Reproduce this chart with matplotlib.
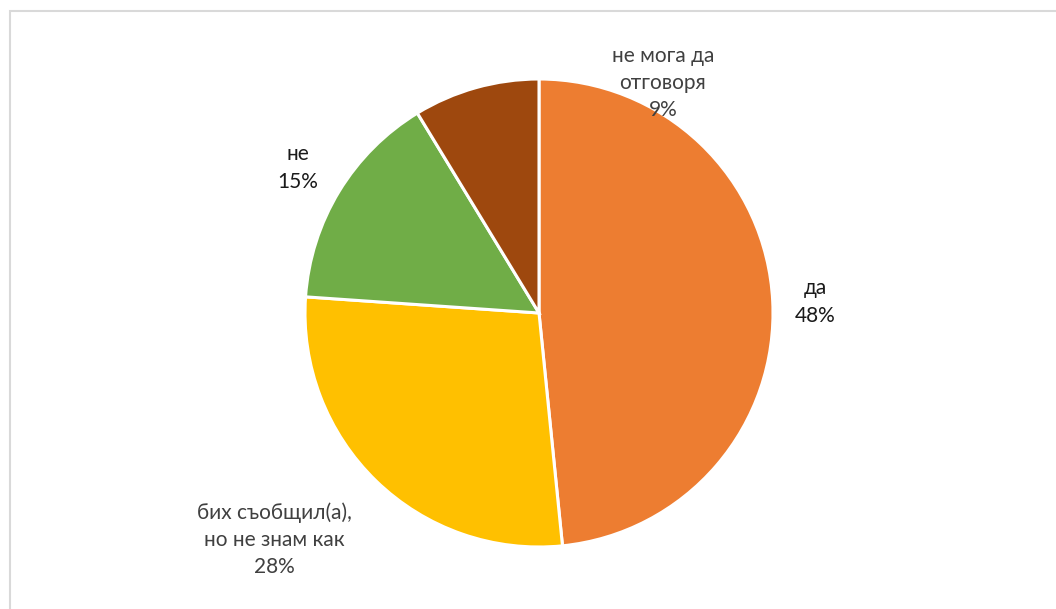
import matplotlib.pyplot as plt
from matplotlib.patches import Rectangle

labels = ['да', 'бих съобщил(а),\nно не знам как', 'не', 'не мога да\nотговоря']
shares = [48.4, 27.7, 15.2, 8.7]
colors = ['#ED7D31', '#FFC000', '#70AD47', '#9E480E']
# label centres in pixels (x, y from top)
label_px = [(815, 302), (274, 540), (298, 168), (663, 83)]
label_colors = ['#1a1a1a', '#404040', '#1a1a1a', '#404040']

W, H = 1056, 609
fig = plt.figure(figsize=(W / 100, H / 100), dpi=100)
plt.rcParams['font.family'] = ['Lato', 'DejaVu Sans']

# chart border
fig.patches.append(Rectangle((9.5 / W, -0.1), 1.2, 1.1 - 11.5 / H,
                             transform=fig.transFigure, fill=False,
                             edgecolor='#D9D9D9', linewidth=1.5))

cx, cy, r = 539, 313, 234
ax = fig.add_axes([(cx - r) / W, (H - cy - r) / H, 2 * r / W, 2 * r / H])
ax.pie(shares, colors=colors, startangle=90, counterclock=False,
       wedgeprops=dict(edgecolor='white', linewidth=2.2))
ax.set_xlim(-1, 1)
ax.set_ylim(-1, 1)
ax.set_aspect('equal')
ax.axis('off')

for lab, s, (px, py), c in zip(labels, shares, label_px, label_colors):
    fig.text(px / W, 1 - py / H, f'{lab}\n{round(s)}%', ha='center', va='center',
             fontsize=15, color=c, linespacing=1.45)

fig.savefig('out.png', dpi=100)
